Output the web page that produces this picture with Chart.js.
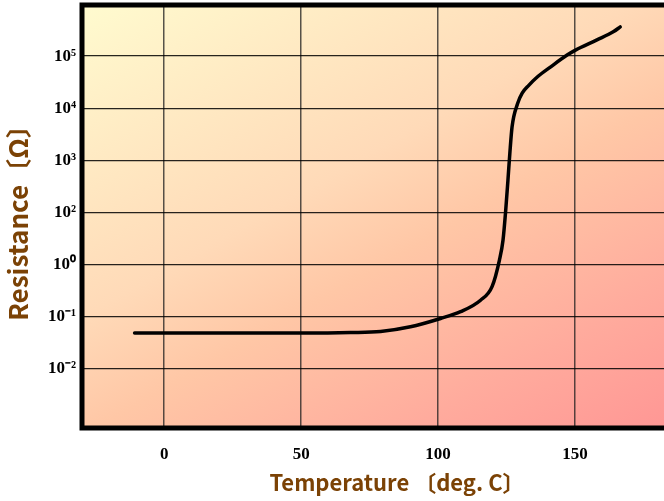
<!DOCTYPE html>
<html>
<head>
<meta charset="utf-8">
<script src="https://cdn.jsdelivr.net/npm/chart.js@4/dist/chart.umd.min.js"></script>
<style>
  html, body { margin: 0; padding: 0; background: #fff; width: 664px; height: 501px; overflow: hidden; }
  #wrap { width: 716px; height: 501px; }
</style>
</head>
<body>
<div id="wrap"><canvas id="ptcChart" width="716" height="501"></canvas></div>
<script>
// Curve (temperature in deg. C, y in grid steps)
const tempC = [-10.8, 13.3, 51.3, 68.0, 79.0, 89.9, 100.9, 108.2, 115.5, 119.7, 122.4, 123.7,
    124.7, 125.5, 126.2, 127.0, 129.1, 130.7, 133.1, 136.2, 141.0, 147.1, 150.0, 158.0, 164.1, 166.5];
const resistStep = [0.69, 0.69, 0.69, 0.70, 0.72, 0.81, 0.97, 1.10, 1.32, 1.58, 2.09, 2.47,
    3.05, 3.62, 4.14, 4.64, 5.10, 5.29, 5.44, 5.60, 5.79, 6.02, 6.11, 6.31, 6.47, 6.56];

// Axis ticks
const xTicks = [0, 50, 100, 150];
const yTicks = [0, 1, 2, 3, 4, 5, 6];
const yTickLabels = ['10\u207B\u00B2', '10\u207B\u00B9', '10\u2070', '10\u00B2', '10\u00B3', '10\u2074', '10\u2075'];

const brown = '#7b4205';

// Gradient behind the plot (runs steeper than the diagonal)
const plotBackground = {
    id: 'plotBackground',
    beforeDraw(chart) {
        const { ctx, chartArea: a } = chart;
        const len = 680;
        const g = ctx.createLinearGradient(a.left, a.top, a.left + 0.495 * len, a.top + 0.869 * len);
        g.addColorStop(0, '#fffbcf');
        g.addColorStop(0.4, '#ffdab8');
        g.addColorStop(0.55, '#ffc7a6');
        g.addColorStop(0.78, '#ffab9d');
        g.addColorStop(1, '#ff9393');
        ctx.save();
        ctx.fillStyle = g;
        ctx.fillRect(a.left, a.top, a.right - a.left, a.bottom - a.top);
        ctx.restore();
    },
};

// Thick frame on left, top and bottom
const plotFrame = {
    id: 'plotFrame',
    afterDraw(chart) {
        const { ctx, chartArea: a } = chart;
        ctx.save();
        ctx.strokeStyle = '#000';
        ctx.lineWidth = 5;
        ctx.beginPath();
        ctx.moveTo(a.right + 5, a.top);
        ctx.lineTo(a.left, a.top);
        ctx.lineTo(a.left, a.bottom);
        ctx.lineTo(a.right + 5, a.bottom);
        ctx.stroke();
        ctx.restore();
    },
};

const ctx = document.getElementById('ptcChart').getContext('2d');
const chart = new Chart(ctx, {
    type: 'line',
    data: {
        datasets: [{
            data: tempC.map((t, i) => ({ x: t, y: resistStep[i] })),
            borderColor: '#000',
            borderWidth: 3.5,
            borderCapStyle: 'round',
            pointRadius: 0,
            cubicInterpolationMode: 'monotone',
            fill: false,
        }],
    },
    options: {
        responsive: false,
        animation: false,
        layout: { padding: { top: 5, right: 4, left: 0, bottom: 0 } },
        plugins: {
            legend: { display: false },
            tooltip: { enabled: false },
        },
        scales: {
            x: {
                type: 'linear',
                min: -30,
                max: 200,
                afterBuildTicks: (axis) => { axis.ticks = xTicks.map(v => ({ value: v })); },
                afterFit: (axis) => {
                    axis.height = 73;
                    axis.paddingLeft = 0;
                    axis.paddingRight = 0;
                },
                border: { display: false },
                grid: { color: 'rgba(30,30,30,0.75)', lineWidth: 1.5, drawTicks: false },
                ticks: {
                    padding: 16,
                    color: '#000',
                    font: { family: '"Liberation Serif", "Times New Roman", serif', size: 17, weight: 'bold' },
                },
                title: {
                    display: true,
                    text: 'Temperature \u3014deg. C\u3015',
                    color: brown,
                    padding: { top: 0, bottom: 5 },
                    font: { family: '"Noto Sans CJK JP", "Noto Sans", sans-serif', size: 22, weight: 'bold' },
                },
            },
            y: {
                type: 'linear',
                min: -1.13,
                max: 6.98,
                afterBuildTicks: (axis) => { axis.ticks = yTicks.map(v => ({ value: v })); },
                afterFit: (axis) => {
                    axis.width = 82;
                    axis.paddingTop = 0;
                    axis.paddingBottom = 0;
                },
                border: { display: false },
                grid: { color: 'rgba(0,0,0,0.85)', lineWidth: 1.3, drawTicks: false },
                ticks: {
                    padding: 6,
                    color: '#000',
                    callback: (value) => yTickLabels[yTicks.indexOf(value)],
                    font: { family: '"Liberation Serif", "Times New Roman", serif', size: 17, weight: 'bold' },
                },
                title: {
                    display: true,
                    text: 'Resistance\u3014\u03A9\u3015',
                    color: brown,
                    padding: { top: 3, bottom: 0 },
                    font: { family: '"Noto Sans CJK JP", "Noto Sans", sans-serif', size: 26, weight: 'bold' },
                },
            },
        },
    },
    plugins: [plotBackground, plotFrame],
});
</script>
</body>
</html>
